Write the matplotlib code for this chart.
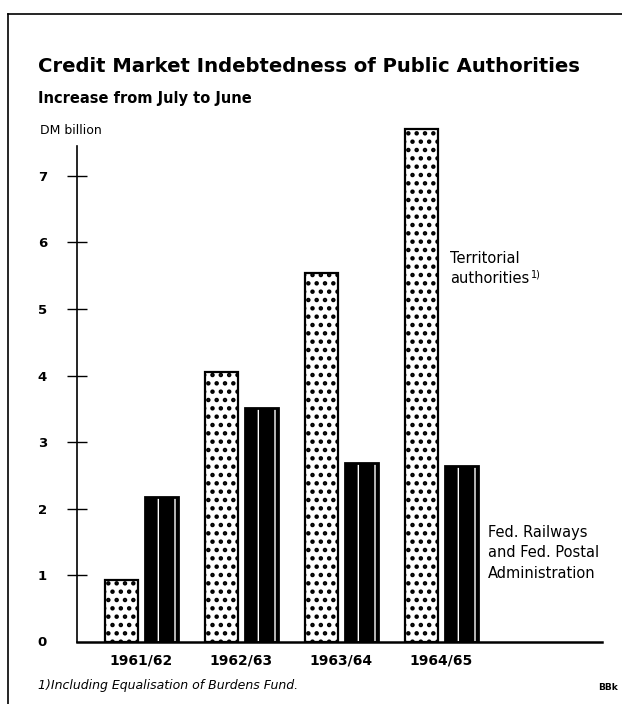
import numpy as np
import matplotlib
import matplotlib.pyplot as plt
from matplotlib.lines import Line2D

# =====================================================
# DATA
# =====================================================

years = ["1961/62", "1962/63", "1963/64", "1964/65"]
territorial = [0.93, 4.05, 5.54, 7.70]
railways_post = [2.18, 3.51, 2.69, 2.64]
yticks = [0, 1, 2, 3, 4, 5, 6, 7]

plt.rcParams['font.family'] = ['DejaVu Sans']

# =====================================================
# FIGURE
# =====================================================

fig = plt.figure(figsize=(6.22, 7.04), dpi=100)
ax = fig.add_axes([77/622, 1-642/704, 525/622, (642-122.5)/704])

x = np.arange(len(years))
w = 0.33

with plt.rc_context({'hatch.linewidth': 2.0}):
    ax.bar(x - 0.2, territorial, width=w, color='white',
           edgecolor='black', hatch='..', linewidth=0, zorder=2)
ax.bar(x - 0.2, territorial, width=w, fill=False,
       edgecolor='black', linewidth=1.6, zorder=3)

with plt.rc_context({'hatch.linewidth': 1.0}):
    ax.bar(x + 0.2, railways_post, width=w, color='black',
           edgecolor='white', hatch='|', linewidth=0, zorder=2)
ax.bar(x + 0.2, railways_post, width=w, fill=False,
       edgecolor='black', linewidth=2, zorder=3)

ax.set_xlim(-0.64, 4.61)
ax.set_ylim(0, 7.8)

for s in ['top', 'right']:
    ax.spines[s].set_visible(False)
ax.spines['left'].set_bounds(0, 7.45)
ax.spines['left'].set_linewidth(1.2)
ax.spines['bottom'].set_linewidth(1.8)

ax.set_yticks(yticks[1:])
ax.set_yticklabels([str(v) for v in yticks[1:]], fontweight='bold', fontsize=9.5)
ax.tick_params(axis='y', direction='inout', length=15, width=1.0, pad=14)
ax.text(-0.64 - 0.35, 0, "0", ha='center', va='center',
        fontweight='bold', fontsize=9.5)

ax.set_xticks(x)
ax.set_xticklabels(years, fontweight='bold', fontsize=10)
ax.tick_params(axis='x', length=0, pad=8)

# series labels
ax.text(3.09, 5.61, "Territorial\nauthorities", ha='left', va='center',
        fontsize=10.5, linespacing=1.45)
ax.text(3.90, 5.52, "1)", ha='left', va='center', fontsize=7)
ax.text(3.47, 1.34, "Fed. Railways\nand Fed. Postal\nAdministration",
        ha='left', va='center', fontsize=10.5, linespacing=1.45)

# =====================================================
# TEXTS AND FRAME
# =====================================================

fig.text(38/622, 1-67/704, "Credit Market Indebtedness of Public Authorities",
         fontsize=14.1, fontweight='bold', va='center', ha='left')
fig.text(38/622, 1-98/704, "Increase from July to June",
         fontsize=10.5, va='center', ha='left', fontweight='semibold')
fig.text(40/622, 1-130/704, "DM billion", fontsize=9, va='center', ha='left')
fig.text(38/622, 1-686/704, "1)Including Equalisation of Burdens Fund.",
         fontsize=9, style='italic', va='center', ha='left')
fig.text(598/622, 1-688/704, "BBk", fontsize=6.5, va='center', ha='left',
         fontweight='bold')

fig.add_artist(Line2D([8/622, 8/622], [0, 1-14/704], color='black', lw=1.2,
                      transform=fig.transFigure))
fig.add_artist(Line2D([8/622, 1], [1-14/704, 1-14/704], color='black', lw=1.2,
                      transform=fig.transFigure))

plt.savefig("out.png", dpi=100)
plt.close()
